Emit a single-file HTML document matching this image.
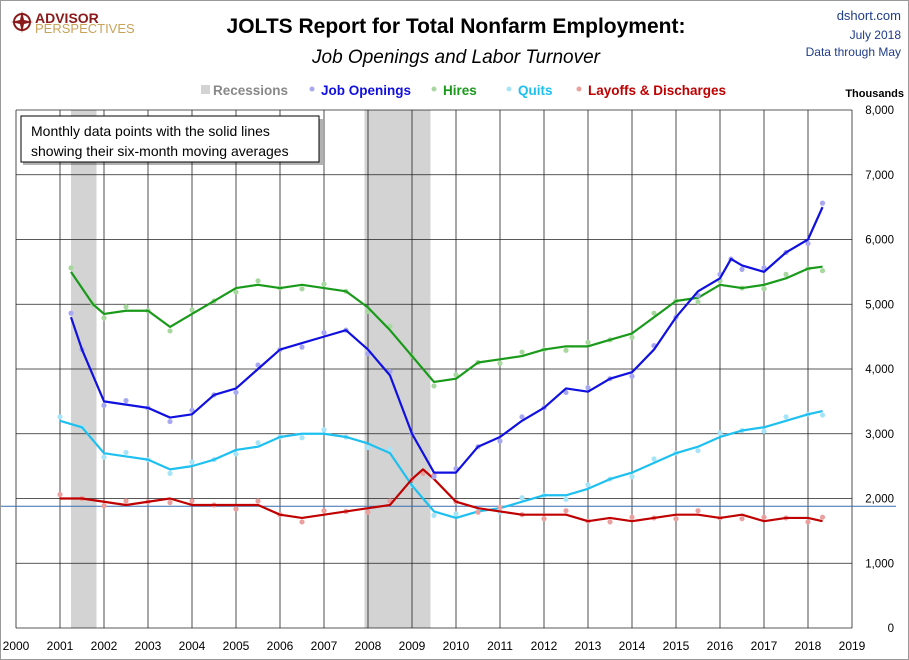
<!DOCTYPE html>
<html><head><meta charset="utf-8"><style>
body{margin:0;background:#fff;font-family:"Liberation Sans",sans-serif}
#wrap{position:relative;width:907px;height:658px;border:1px solid #999;overflow:hidden}
</style></head><body>
<div id="wrap">
<svg id="c" width="907" height="658"></svg>
</div>
<script>
const years=[2000,2001,2002,2003,2004,2005,2006,2007,2008,2009,2010,2011,2012,2013,2014,2015,2016,2017,2018,2019];
const yTicks=[0,1000,2000,3000,4000,5000,6000,7000,8000];
const yTickLabels=["0","1,000","2,000","3,000","4,000","5,000","6,000","7,000","8,000"];
const recessions=[[2001.25,2001.83],[2007.92,2009.42]];
const tOpen=[2001.25,2001.5,2002.0,2002.5,2003.0,2003.5,2004.0,2004.5,2005.0,2005.5,2006.0,2006.5,2007.0,2007.5,2008.0,2008.5,2009.0,2009.5,2010.0,2010.5,2011.0,2011.5,2012.0,2012.5,2013.0,2013.5,2014.0,2014.5,2015.0,2015.5,2016.0,2016.25,2016.5,2017.0,2017.5,2018.0,2018.33];
const jobOpenings=[4800,4300,3500,3450,3400,3250,3300,3600,3700,4000,4300,4400,4500,4600,4300,3900,3000,2400,2400,2800,2950,3200,3400,3700,3650,3850,3950,4300,4800,5200,5400,5700,5600,5500,5800,6000,6500];
const tHires=[2001.25,2001.75,2002.0,2002.5,2003.0,2003.5,2004.0,2004.5,2005.0,2005.5,2006.0,2006.5,2007.0,2007.5,2008.0,2008.5,2009.0,2009.5,2010.0,2010.5,2011.0,2011.5,2012.0,2012.5,2013.0,2013.5,2014.0,2014.5,2015.0,2015.5,2016.0,2016.5,2017.0,2017.5,2018.0,2018.33];
const hires=[5500,5000,4850,4900,4900,4650,4850,5050,5250,5300,5250,5300,5250,5200,4950,4600,4200,3800,3850,4100,4150,4200,4300,4350,4350,4450,4550,4800,5050,5100,5300,5250,5300,5400,5550,5580];
const tQ=[2001.0,2001.5,2002.0,2002.5,2003.0,2003.5,2004.0,2004.5,2005.0,2005.5,2006.0,2006.5,2007.0,2007.5,2008.0,2008.5,2009.0,2009.5,2010.0,2010.5,2011.0,2011.5,2012.0,2012.5,2013.0,2013.5,2014.0,2014.5,2015.0,2015.5,2016.0,2016.5,2017.0,2017.5,2018.0,2018.33];
const quits=[3200,3100,2700,2650,2600,2450,2500,2600,2750,2800,2950,3000,3000,2950,2850,2700,2200,1800,1700,1800,1850,1950,2050,2050,2150,2300,2400,2550,2700,2800,2950,3050,3100,3200,3300,3350];
const tL=[2001.0,2001.5,2002.0,2002.5,2003.0,2003.5,2004.0,2004.5,2005.0,2005.5,2006.0,2006.5,2007.0,2007.5,2008.0,2008.5,2009.0,2009.25,2009.5,2010.0,2010.5,2011.0,2011.5,2012.0,2012.5,2013.0,2013.5,2014.0,2014.5,2015.0,2015.5,2016.0,2016.5,2017.0,2017.5,2018.0,2018.33];
const layoffs=[2000,2000,1950,1900,1950,2000,1900,1900,1900,1900,1750,1700,1750,1800,1850,1900,2300,2450,2300,1950,1850,1800,1750,1750,1750,1650,1700,1650,1700,1750,1750,1700,1750,1650,1700,1700,1650];
const refLine=1880;

const X0=15,X1=851,Y0=627,Y1=109;
const xS=t=>X0+(t-2000)/19*(X1-X0);
const yS=v=>Y0-v/8000*(Y0-Y1);
const svg=document.getElementById('c');const NS='http://www.w3.org/2000/svg';
function el(tag,attrs,parent){const e=document.createElementNS(NS,tag);for(const k in attrs)e.setAttribute(k,attrs[k]);(parent||svg).appendChild(e);return e;}
function tx(x,y,s,attrs){const e=el('text',Object.assign({x,y},attrs));e.textContent=s;return e;}

// recessions
recessions.forEach((r,i)=>{const e=el('rect',{x:xS(r[0]),y:Y1,width:xS(r[1])-xS(r[0]),height:Y0-Y1,fill:'#d3d3d3'});

});
// grid
years.forEach(y=>{const e=el('line',{x1:xS(y),x2:xS(y),y1:Y1,y2:Y0,stroke:'#222','stroke-width':0.8});


const l=tx(xS(y),649,String(y),{'text-anchor':'middle','font-size':12,fill:'#000'});

});
yTicks.forEach((v,i)=>{const e=el('line',{x1:X0,x2:X1,y1:yS(v),y2:yS(v),stroke:'#222','stroke-width':0.8});


const l=tx(893,yS(v)+4,yTickLabels[i],{'text-anchor':'end','font-size':11.5,fill:'#000'});

});
const rl=el('line',{x1:0,x2:895,y1:yS(refLine),y2:yS(refLine),stroke:'#3a6fb0','stroke-width':1});



const series=[[tQ,quits,'#1ec0f0','#a8e4f8','quits'],[tL,layoffs,'#c00000','#eba0a0','layoffs'],[tHires,hires,'#1a9a1a','#a8d8a0','hires'],[tOpen,jobOpenings,'#1010e0','#a8a8f0','job-openings']];
series.forEach(s=>{const [t,v,c,lc,n]=s;
t.forEach((tt,i)=>{const d=el('circle',{cx:xS(tt),cy:yS(v[i])+((i%3)-1)*4,r:2.6,fill:lc});

});
const p=el('polyline',{points:t.map((tt,i)=>xS(tt)+','+yS(v[i])).join(' '),fill:'none',stroke:c,'stroke-width':2.2,'stroke-linejoin':'round'});

});

// note box
const nb=el('g',{});
el('rect',{x:22,y:118,width:300,height:46,fill:'#000',opacity:0.3},nb);
el('rect',{x:20,y:115,width:298,height:46,fill:'#fff',stroke:'#000','stroke-width':1},nb);
tx(30,135,'Monthly data points with the solid lines',{'font-size':14,fill:'#000'});
tx(30,155,'showing their six-month moving averages',{'font-size':14,fill:'#000'});

// titles
const t1=tx(455,32,'JOLTS Report for Total Nonfarm Employment:',{'text-anchor':'middle','font-size':21,'font-weight':'bold',fill:'#000'});

const t2=tx(455,62,'Job Openings and Labor Turnover',{'text-anchor':'middle','font-size':19,'font-style':'italic',fill:'#000'});

[['dshort.com',19,13],['July 2018',38,12],['Data through May',55,12]].forEach((a,i)=>{const e=tx(900,a[1],a[0],{'text-anchor':'end','font-size':a[2],fill:'#1f3c88','font-weight':i==0?'normal':'normal'});
});
const th=tx(903,96,'Thousands',{'text-anchor':'end','font-size':11,'font-weight':'bold',fill:'#000'});

// logo
const lg=el('g',{});
el('circle',{cx:21,cy:21,r:8,fill:'none',stroke:'#8b1a1a','stroke-width':2},lg);
el('path',{d:'M21 10 L23 19 L32 21 L23 23 L21 32 L19 23 L10 21 L19 19Z',fill:'#8b1a1a'},lg);
tx(34,22,'ADVISOR',{'font-size':14,'font-weight':'bold',fill:'#8b1a1a'});
tx(34,32,'PERSPECTIVES',{'font-size':13,fill:'#c9a35a'});
// legend
const legend=[['Recessions','#d3d3d3','#888',203,'rect'],['Job Openings','#a8a8f0','#1010e0',311,'dot'],['Hires','#a8d8a0','#1a9a1a',433,'dot'],['Quits','#a8e4f8','#1ec0f0',508,'dot'],['Layoffs & Discharges','#eba0a0','#c00000',578,'dot']];
legend.forEach(l=>{const g=el('g',{});
if(l[4]=='rect')el('rect',{x:l[3]-3,y:84,width:9,height:9,fill:l[1]},g);else el('circle',{cx:l[3],cy:88,r:2.5,fill:l[1]},g);
const e=tx(l[3]+9,94,l[0],{'font-size':13.5,'font-weight':'bold',fill:l[2]});g.appendChild(e);});
</script>
</body></html>
